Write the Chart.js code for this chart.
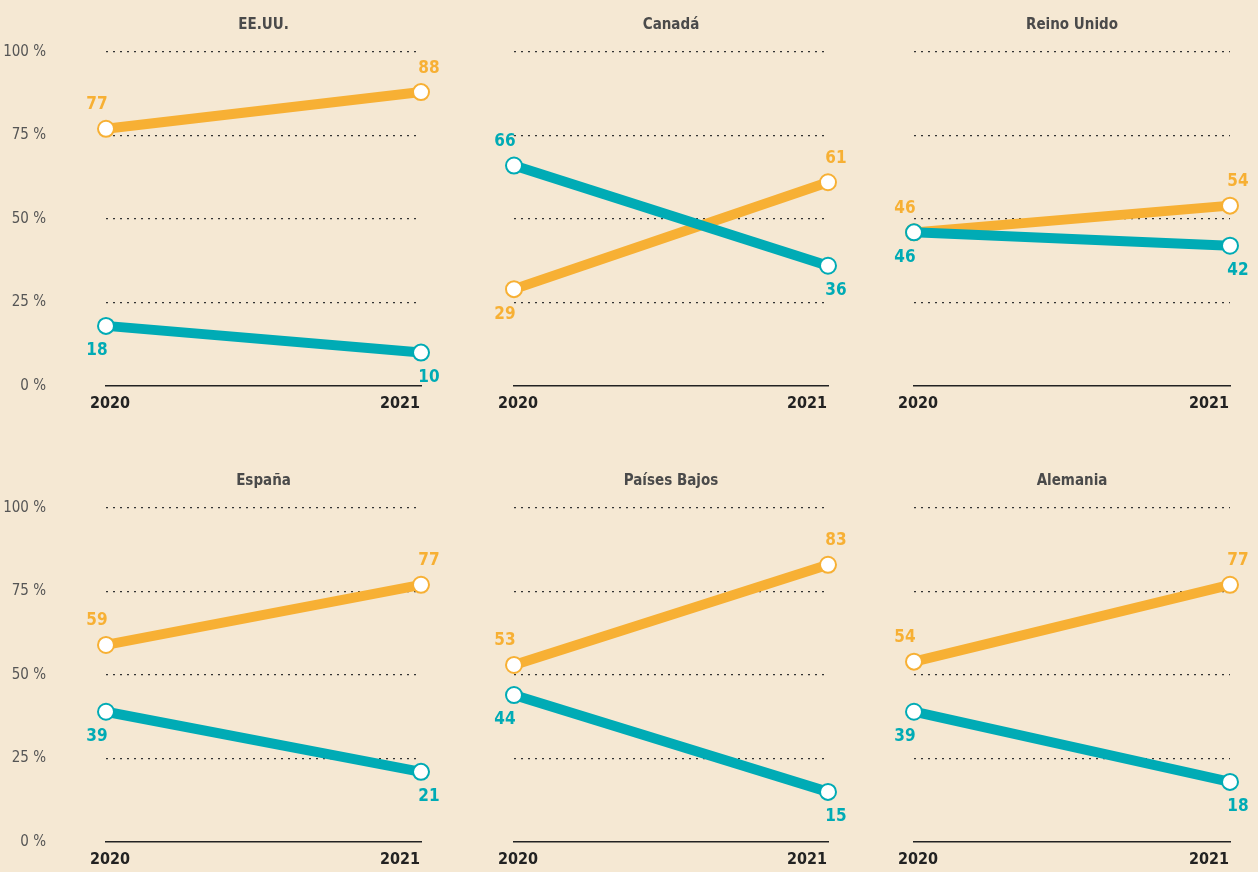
<!DOCTYPE html>
<html>
<head>
<meta charset="utf-8">
<script src="https://cdn.jsdelivr.net/npm/chart.js@4"></script>
<style>
    body {
        margin: 0;
        background: #f5e8d3;
        width: 1258px;
        height: 872px;
        position: relative;
        overflow: hidden;
    }
    canvas {
        position: absolute;
    }
</style>
</head>
<body>
<script>
// data
const years = ["2020", "2021"];
const countries = ["EE.UU.", "Canadá", "Reino Unido", "España", "Países Bajos", "Alemania"];
const orangeValues = [
    [77, 88],
    [29, 61],
    [46, 54],
    [59, 77],
    [53, 83],
    [54, 77]
];
const tealValues = [
    [18, 10],
    [66, 36],
    [46, 42],
    [39, 21],
    [44, 15],
    [39, 18]
];

const ORANGE = "#f7b034";
const TEAL = "#00abb5";
const FONT = '"Liberation Sans Narrow", "DejaVu Sans Condensed", sans-serif';

// chart area placement per column / row
const colLeft = [106, 514, 914];
const colWidth = [315, 314, 316];
const rowTop = [0, 456];
const AXIS_W = 106;
const PAD_RIGHT = 30;
const PAD_TOP = 52;
const XAXIS_H = 45;
const CANVAS_H = 431;

// draws the title, the years and the value labels
const labelPlugin = {
    id: "labels",
    afterDatasetsDraw(chart, args, opts) {
        const ctx = chart.ctx;
        const area = chart.chartArea;
        const xScale = chart.scales.x;

        ctx.save();
        ctx.font = "bold 15px " + FONT;
        ctx.fillStyle = "#4a4a4a";
        ctx.textAlign = "center";
        ctx.textBaseline = "middle";
        ctx.fillText(opts.title, (area.left + area.right) / 2, 25);

        // years under the axis
        ctx.font = "bold 16px " + FONT;
        ctx.fillStyle = "#222";
        chart.data.labels.forEach((lab, i) => {
            const x = xScale.getPixelForTick(i);
            if (i === 0) {
                ctx.textAlign = "center";
                ctx.fillText(lab, x + 4, area.bottom + 18);
            } else {
                ctx.textAlign = "right";
                ctx.fillText(lab, x - 1, area.bottom + 18);
            }
        });

        ctx.textAlign = "center";
        ctx.font = "bold 17px " + FONT;
        const o = chart.getDatasetMeta(1);
        const t = chart.getDatasetMeta(0);
        const oData = chart.data.datasets[1].data;
        const tData = chart.data.datasets[0].data;

        for (let i = 0; i < oData.length; i++) {
            const dx = i === 0 ? -9 : 8;
            const orangeUp = oData[i] >= tData[i];

            ctx.fillStyle = ORANGE;
            ctx.fillText(oData[i], o.data[i].x + dx, o.data[i].y + (orangeUp ? -24 : 25));

            ctx.fillStyle = TEAL;
            ctx.fillText(tData[i], t.data[i].x + dx, t.data[i].y + (orangeUp ? 25 : -24));
        }
        ctx.restore();
    }
};

function makePanel(idx) {
    const col = idx % 3;
    const row = Math.floor(idx / 3);

    const canvas = document.createElement("canvas");
    const w = AXIS_W + colWidth[col] + PAD_RIGHT;
    canvas.style.left = (colLeft[col] - AXIS_W) + "px";
    canvas.style.top = rowTop[row] + "px";
    canvas.style.width = w + "px";
    canvas.style.height = CANVAS_H + "px";
    canvas.width = w;
    canvas.height = CANVAS_H;
    document.body.appendChild(canvas);

    const lineSet = (data, color) => ({
        data: data,
        borderColor: color,
        borderWidth: 10,
        pointRadius: 8,
        pointBorderWidth: 2,
        pointBackgroundColor: "#ffffff",
        pointBorderColor: color,
        tension: 0,
        clip: false
    });

    new Chart(canvas, {
        type: "line",
        data: {
            labels: years,
            datasets: [
                lineSet(tealValues[idx], TEAL),
                lineSet(orangeValues[idx], ORANGE)
            ]
        },
        options: {
            responsive: false,
            animation: false,
            events: [],
            layout: {
                padding: { top: PAD_TOP, right: PAD_RIGHT, bottom: 0, left: 0 }
            },
            plugins: {
                legend: { display: false },
                tooltip: { enabled: false },
                labels: { title: countries[idx] }
            },
            scales: {
                x: {
                    offset: false,
                    afterFit: s => {
                        s.height = XAXIS_H;
                        s.paddingLeft = 0;
                        s.paddingRight = 0;
                    },
                    grid: { display: false },
                    border: { display: true, color: "#222", width: 1.5 },
                    ticks: { display: false }
                },
                y: {
                    min: 0,
                    max: 100,
                    afterFit: s => {
                        s.width = AXIS_W;
                        s.paddingTop = 0;
                        s.paddingBottom = 0;
                    },
                    grid: {
                        drawTicks: false,
                        color: c => c.tick.value === 0 ? "rgba(0,0,0,0)" : "#333",
                        lineWidth: 1.3
                    },
                    border: { display: false, dash: [2, 5] },
                    ticks: {
                        display: col === 0,
                        stepSize: 25,
                        padding: 60,
                        color: "#555",
                        font: { family: FONT, size: 15 },
                        callback: v => v + " %"
                    }
                }
            }
        },
        plugins: [labelPlugin]
    });
}

for (let i = 0; i < countries.length; i++) {
    makePanel(i);
}
</script>
</body>
</html>
